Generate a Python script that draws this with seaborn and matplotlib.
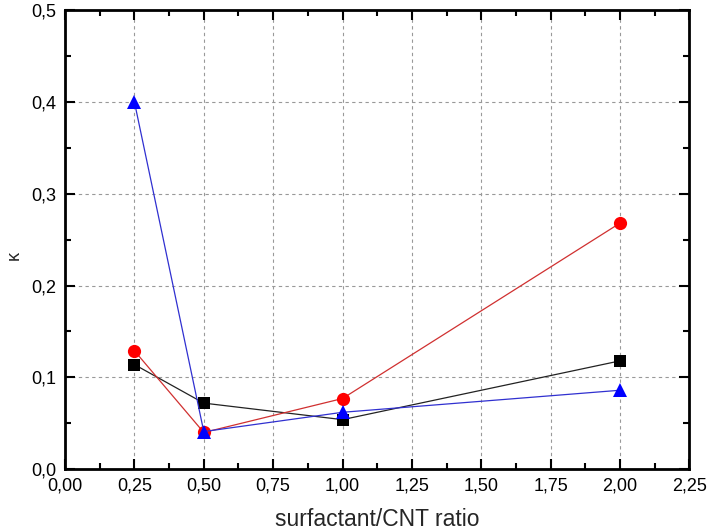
import matplotlib
matplotlib.use('Agg')
import matplotlib.pyplot as plt
import seaborn as sns
import pandas as pd
from matplotlib.ticker import FuncFormatter, MultipleLocator

ratio = [0.25, 0.5, 1.0, 2.0]
kappa_black = [0.114, 0.072, 0.054, 0.118]
kappa_red = [0.129, 0.040, 0.077, 0.268]
kappa_blue = [0.400, 0.041, 0.062, 0.086]

df = pd.DataFrame({
    'ratio': ratio * 3,
    'kappa': kappa_black + kappa_red + kappa_blue,
    'series': ['black'] * 4 + ['red'] * 4 + ['blue'] * 4,
})

sns.set_style('ticks')
plt.rcParams['font.family'] = ['Liberation Sans', 'DejaVu Sans']

fig = plt.figure(figsize=(7.07, 5.32), dpi=100)
ax = fig.add_axes([0.092, 0.118, 0.883, 0.863])

# line colour, marker colour, marker, size
styles = {
    'black': ('#222222', '#000000', 's', 8.5),
    'red': ('#d03030', '#ff0000', 'o', 9.5),
    'blue': ('#3030d0', '#0000ff', '^', 10.5),
}
for name, (lcolor, mcolor, marker, ms) in styles.items():
    sub = df[df['series'] == name]
    sns.lineplot(data=sub, x='ratio', y='kappa', ax=ax, color=lcolor, marker=marker,
                 markersize=ms, markerfacecolor=mcolor, markeredgewidth=0,
                 linewidth=0.9, sort=False)

ax.set_xlim(0, 2.25)
ax.set_ylim(0, 0.5)
ax.xaxis.set_major_locator(MultipleLocator(0.25))
ax.xaxis.set_minor_locator(MultipleLocator(0.125))
ax.yaxis.set_major_locator(MultipleLocator(0.1))
ax.yaxis.set_minor_locator(MultipleLocator(0.05))
ax.xaxis.set_major_formatter(FuncFormatter(lambda v, p: f'{v:.2f}'.replace('.', ',')))
ax.yaxis.set_major_formatter(FuncFormatter(lambda v, p: f'{v:.1f}'.replace('.', ',')))
ax.grid(True, which='major', linestyle=(0, (3, 3)), color='#999999', linewidth=0.8)
ax.tick_params(which='both', direction='in', top=True, right=True, width=1.5,
               labelsize=13, colors='black')
ax.tick_params(which='major', length=7)
ax.tick_params(which='minor', length=4)
ax.tick_params(axis='x', pad=6)
ax.tick_params(axis='y', pad=6)
for s in ax.spines.values():
    s.set_linewidth(2)
    s.set_color('black')

ax.set_xlabel('surfactant/CNT ratio', fontsize=16.5, labelpad=10)
ax.set_ylabel('κ', fontsize=13, rotation=90)
ax.yaxis.set_label_coords(-0.068, 0.466)

plt.savefig('out.png', dpi=100)
plt.close()
